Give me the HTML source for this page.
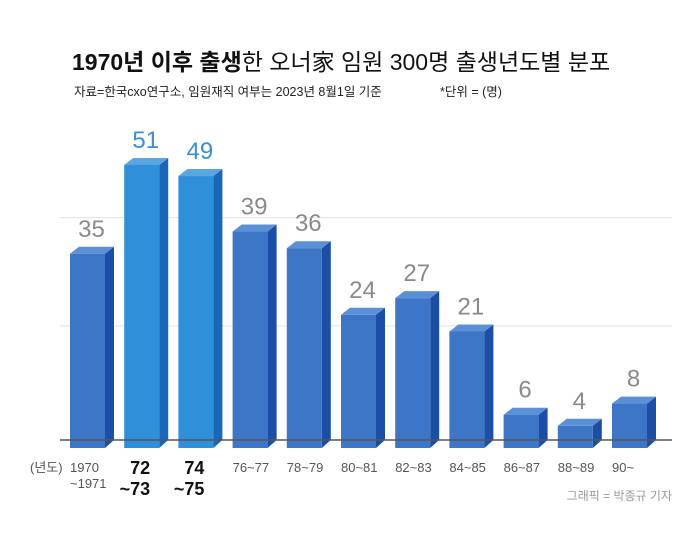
<!DOCTYPE html>
<html><head><meta charset="utf-8"><style>
body{margin:0;background:#fff;}
svg{display:block;font-family:"Liberation Sans","Noto Sans CJK KR",sans-serif;}
</style></head><body>
<svg id="chart" width="700" height="550">
<text x="72" y="70" font-size="23" fill="#111"><tspan font-weight="bold">1970년 이후 출생</tspan>한 오너家 임원 300명 출생년도별 분포</text>
<text x="74" y="96" font-size="12.5" fill="#222">자료=한국cxo연구소, 임원재직 여부는 2023년 8월1일 기준</text>
<text x="440" y="96" font-size="12.5" fill="#222">*단위 = (명)</text>
<g id="grid"></g>
<g id="bars"></g>
<line x1="60" y1="440" x2="672" y2="440" stroke="#555" stroke-width="1.5"/>
<text x="30" y="472" font-size="13" fill="#555">(년도)</text>
<g id="xlabels"></g>
<text x="672" y="500" font-size="12" fill="#999" text-anchor="end">그래픽 = 박종규 기자</text>
</svg>
<script>
const categories=["1970\n~1971","72\n~73","74\n~75","76~77","78~79","80~81","82~83","84~85","86~87","88~89","90~"];
const values=[35,51,49,39,36,24,27,21,6,4,8];
const highlight=[false,true,true,false,false,false,false,false,false,false,false];
const gridValues=[22,41.5];
const NS="http://www.w3.org/2000/svg";
const base=448, unit=5.55;
const y=v=>base-v*unit;
const x=i=>70+i*54.2;
function mk(tag,attrs,parent){const e=document.createElementNS(NS,tag);for(const k in attrs)e.setAttribute(k,attrs[k]);parent.appendChild(e);return e;}
const grid=document.getElementById('grid');
gridValues.forEach(g=>{
 const l=mk('line',{x1:60,x2:672,y1:y(g),y2:y(g),stroke:'#e2e2e2','stroke-width':1},grid);
 
 
});
const bars=document.getElementById('bars');
const xl=document.getElementById('xlabels');
values.forEach((v,i)=>{
 const x0=x(i),w=35,d=9,o=7,t=y(v);
 const hi=highlight[i];
 const front=hi?'#2f8fd8':'#3d76c6', side=hi?'#1a66b8':'#1b4ea6', top=hi?'#5aa7e0':'#5b8fd6';
 const g=mk('g',{},bars);
 
 
 mk('polygon',{points:`${x0+w},${t} ${x0+w+d},${t-o} ${x0+w+d},${base-o-1} ${x0+w},${base}`,fill:side},g);
 mk('polygon',{points:`${x0},${t} ${x0+d},${t-o} ${x0+w+d},${t-o} ${x0+w},${t}`,fill:top},g);
 mk('rect',{x:x0,y:t,width:w,height:base-t,fill:front},g);
 const lab=mk('text',{x:x0+w/2+4,y:t-17,'font-size':24,fill:hi?'#3a8fd3':'#8a8a8a','text-anchor':'middle'},bars);
 lab.textContent=v;
 
 
 const lines=categories[i].split("\n");
 const cx=hi?x0+w/2:x0;
 lines.forEach((s,k)=>{
  const tx=mk('text',{x:hi?(k===0?x0+26:x0+26):x0,y:hi?474+k*21:472+k*16,'font-size':hi?18:13,'font-weight':hi?'bold':'normal',fill:hi?'#111':'#555','text-anchor':hi?'end':'start'},xl);
  tx.textContent=s;
  
  
 });
});
</script>
</body></html>
